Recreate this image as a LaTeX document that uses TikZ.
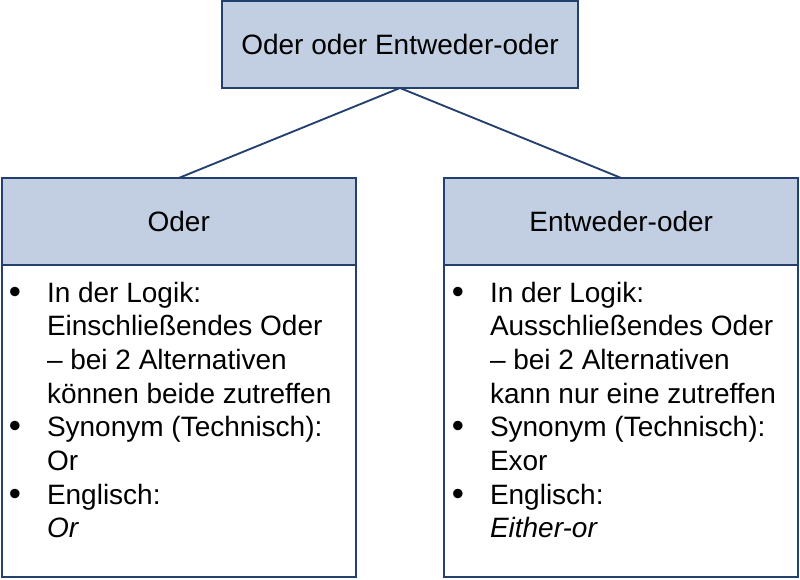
\documentclass[tikz,border=0pt]{standalone}
\usepackage{fontspec}
\setmainfont{Liberation Sans}
\definecolor{boxfill}{RGB}{194,207,226}
\definecolor{boxline}{RGB}{36,64,110}
\newcommand{\bul}{\llap{\raisebox{-0.6pt}{\fontsize{26}{0}\selectfont\textbullet}\hspace{19.5pt}}}
\begin{document}
\begin{tikzpicture}[x=0.75pt, y=-0.75pt, line width=1.4pt,
    every node/.style={font=\fontsize{21}{25.25}\selectfont, outer sep=0pt},
    headbox/.style={rectangle, draw=boxline, fill=boxfill, minimum width=265.5pt, minimum height=65.25pt, inner sep=0pt},
    bodybox/.style={rectangle, draw=boxline, fill=white, minimum width=265.5pt, minimum height=234pt, inner sep=0pt},
    itemtext/.style={anchor=north west, align=left, inner sep=0pt}]
    \useasboundingbox (0,0) rectangle (800,579);

    % --- top ---
    \node[headbox, minimum width=267pt] (top) at (400,44.5) {Oder oder Entweder-oder};

    % --- Oder ---
    \node[headbox] (lhead) at (178.75,221.5) {Oder};
    \node[bodybox, anchor=north] (lbody) at (lhead.south) {};
    \node[itemtext] (ltext) at (47,282) {\bul In der Logik:\\
        Einschließendes Oder\\
        -- bei 2 Alternativen\\
        können beide zutreffen\\
        \bul Synonym (Technisch):\\
        Or\\
        \bul Englisch:\\
        \textit{Or}};

    % --- Entweder-oder ---
    \node[headbox] (rhead) at (621.25,221.5) {Entweder-oder};
    \node[bodybox, anchor=north] (rbody) at (rhead.south) {};
    \node[itemtext] (rtext) at (490,282) {\bul In der Logik:\\
        Ausschließendes Oder\\
        -- bei 2 Alternativen\\
        kann nur eine zutreffen\\
        \bul Synonym (Technisch):\\
        Exor\\
        \bul Englisch:\\
        \textit{Either-or}};

    % connectors
    \draw[boxline] (top.south) -- (lhead.north);
    \draw[boxline] (top.south) -- (rhead.north);
\end{tikzpicture}
\end{document}
